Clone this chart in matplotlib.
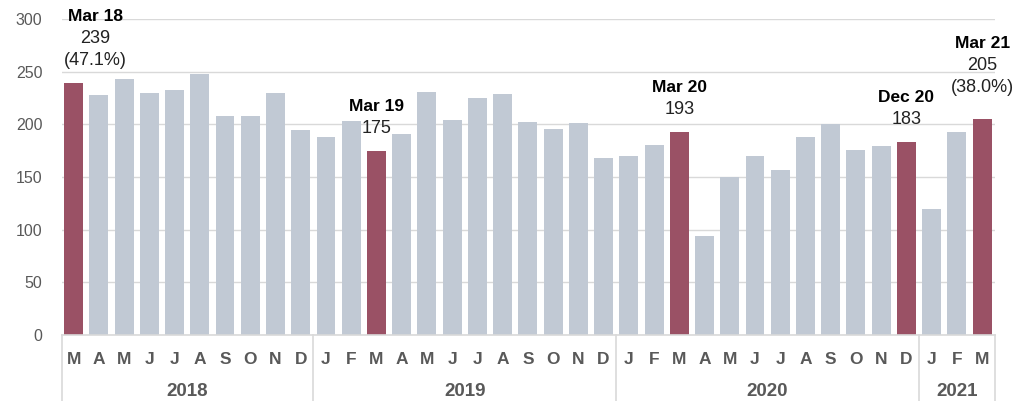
import matplotlib
matplotlib.use("Agg")
import matplotlib.pyplot as plt
import matplotlib.transforms as mtransforms

plt.rcParams['font.family'] = ['Liberation Sans', 'DejaVu Sans']

# ---- data ----
month_labels = list('MAMJJASOND') + list('JFMAMJJASOND') + list('JFMAMJJASOND') + list('JFM')
values = [239, 228, 243, 230, 233, 248, 208, 208, 230, 195,
          188, 203, 175, 191, 231, 204, 225, 229, 202, 196, 201, 168,
          170, 180, 193, 94, 150, 170, 157, 188, 200, 176, 179, 183,
          120, 193, 205]
years = ['2018', '2019', '2020', '2021']
year_counts = [10, 12, 12, 3]
highlight_idx = [0, 12, 24, 33, 36]
highlight_names = ['Mar 18', 'Mar 19', 'Mar 20', 'Dec 20', 'Mar 21']
highlight_pct = ['(47.1%)', None, None, None, '(38.0%)']
yticks = [0, 50, 100, 150, 200, 250, 300]

GRAY = '#c1c9d4'
RED = '#9a5165'
TXT = '#595959'
LINE = '#d9d9d9'

W, H = 1034, 401
fig = plt.figure(figsize=(W / 100, H / 100), dpi=100)
ax_l, ax_r, ax_b, ax_t = 62, 995, 335, 19
ax = fig.add_axes([ax_l / W, (H - ax_b) / H, (ax_r - ax_l) / W, (ax_b - ax_t) / H])

n = len(values)
x = list(range(n))
colors = [RED if i in highlight_idx else GRAY for i in x]
ax.bar(x, values, width=0.75, color=colors, zorder=3)

ax.set_xlim(-0.46, 36.51)
ax.set_ylim(0, 300)
ax.set_yticks(yticks)
ax.set_yticklabels([str(v) for v in yticks], fontsize=11.5, color=TXT)
ax.tick_params(axis='y', length=0, pad=14)
ax.grid(axis='y', color=LINE, linewidth=1, zorder=0)
for s in ['left', 'right', 'top']:
    ax.spines[s].set_visible(False)
ax.spines['bottom'].set_color(LINE)
ax.spines['bottom'].set_linewidth(1.2)
ax.spines['bottom'].set_zorder(4)

ax.set_xticks(x)
ax.set_xticklabels(month_labels, fontsize=12.5, fontweight='bold', color=TXT)
ax.tick_params(axis='x', length=0, pad=12)

# separators and year labels
trans = mtransforms.blended_transform_factory(ax.transData, ax.transAxes)
axh = ax_b - ax_t
bottom_frac = -(H - ax_b) / axh
xl, xr = ax.get_xlim()
bounds = [xl]
start = -0.5
for c in year_counts:
    start += c
    bounds.append(start)
bounds[-1] = xr
for b in bounds:
    ax.plot([b, b], [0, bottom_frac], transform=trans, color=LINE, lw=1.2, clip_on=False, zorder=5)
for k, yr in enumerate(years):
    cx = (bounds[k] + bounds[k + 1]) / 2
    ax.text(cx, -56 / axh, yr, transform=trans, ha='center', va='center',
            fontsize=13.5, fontweight='bold', color=TXT)

# annotations
px = 0.72
for idx, name, pct in zip(highlight_idx, highlight_names, highlight_pct):
    lines = [name, str(values[idx])] + ([pct] if pct else [])
    xo = 0.85 if idx == 0 else 0
    base = 32 if idx == n - 1 else 22.5
    nl = len(lines)
    for j, t in enumerate(lines):
        k = nl - 1 - j
        ax.annotate(t, xy=(idx + xo, values[idx]), xytext=(0, (base + 22 * k) * px),
                    textcoords='offset points', ha='center', va='center',
                    fontsize=12.5 if j == 0 else 13,
                    fontweight='bold' if j == 0 else 'normal',
                    color='black' if j == 0 else '#222222', annotation_clip=False)

fig.savefig('out.png', dpi=100)
